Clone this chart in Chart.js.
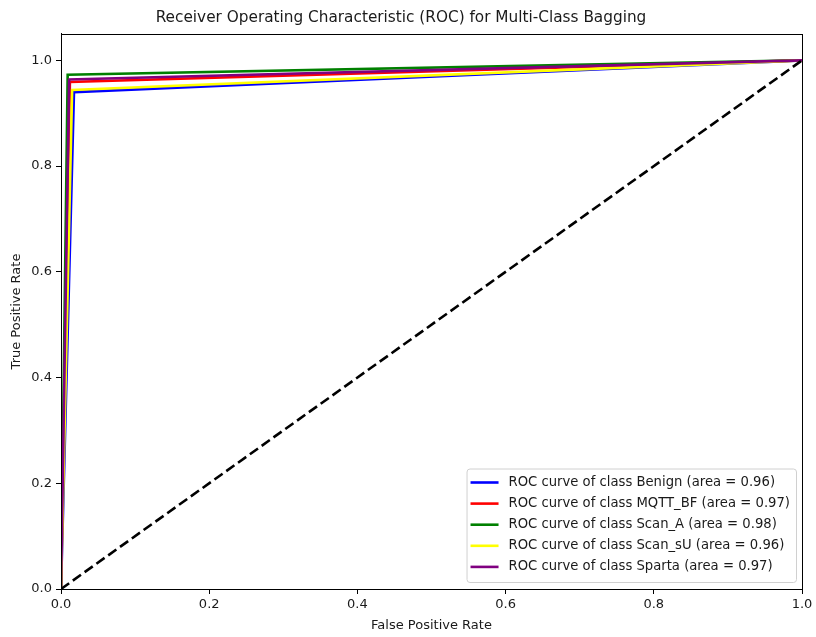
<!DOCTYPE html>
<html>
<head>
<meta charset="utf-8">
<script src="https://cdn.jsdelivr.net/npm/chart.js@4/dist/chart.umd.min.js"></script>
<style>
  html, body { margin: 0; padding: 0; background: #fff; }
  canvas { display: block; }
</style>
</head>
<body>
<canvas id="roc" width="816" height="637"></canvas>
<script>
// ROC points per class (FPR, TPR)
const classNames = ['Benign', 'MQTT_BF', 'Scan_A', 'Scan_sU', 'Sparta'];
const classAuc = [0.96, 0.97, 0.98, 0.96, 0.97];
const classColors = ['#0000ff', '#ff0000', '#008000', '#ffff00', '#800080'];

const benignFpr = [0, 0.0175, 1];
const benignTpr = [0, 0.940, 1];
const mqttFpr = [0, 0.012, 1];
const mqttTpr = [0, 0.959, 1];
const scanAFpr = [0, 0.009, 1];
const scanATpr = [0, 0.973, 1];
const scanSuFpr = [0, 0.015, 1];
const scanSuTpr = [0, 0.944, 1];
const spartaFpr = [0, 0.011, 1];
const spartaTpr = [0, 0.964, 1];

const chanceFpr = [0, 1];
const chanceTpr = [0, 1];

const xTicks = [0, 0.2, 0.4, 0.6, 0.8, 1.0];
const yTicks = [0, 0.2, 0.4, 0.6, 0.8, 1.0];

const FONT = "'DejaVu Sans', sans-serif";
const TEXT = '#1a1a1a';

const curves = [
  [benignFpr, benignTpr],
  [mqttFpr, mqttTpr],
  [scanAFpr, scanATpr],
  [scanSuFpr, scanSuTpr],
  [spartaFpr, spartaTpr]
];

function toPoints(xs, ys) {
  return xs.map((x, i) => ({ x: x, y: ys[i] }));
}

const datasets = curves.map((c, i) => ({
  label: 'ROC curve of class ' + classNames[i] + ' (area = ' + classAuc[i].toFixed(2) + ')',
  data: toPoints(c[0], c[1]),
  borderColor: classColors[i],
  backgroundColor: classColors[i],
  borderWidth: 2.6,
  // matplotlib draws later lines on top
  order: curves.length - i
}));

datasets.push({
  label: 'chance',
  data: toPoints(chanceFpr, chanceTpr),
  borderColor: '#000',
  borderWidth: 2.6,
  borderDash: [10, 4.5],
  order: 0
});

// box around the plot area, like matplotlib spines
const frame = {
  id: 'frame',
  afterDatasetsDraw(chart) {
    const a = chart.chartArea;
    const ctx = chart.ctx;
    ctx.save();
    ctx.strokeStyle = '#000';
    ctx.lineWidth = 1;
    ctx.strokeRect(Math.round(a.left) + 0.5, Math.round(a.top) + 0.5,
      Math.round(a.right - a.left), Math.round(a.bottom - a.top));
    ctx.restore();
  }
};

// legend inside the plot, lower right
const rocLegend = {
  id: 'rocLegend',
  afterDraw(chart) {
    const a = chart.chartArea;
    const ctx = chart.ctx;
    const fontSize = 13.2;
    const rowH = 21.1;
    const lineLen = 28;
    const gap = 10;
    ctx.save();
    ctx.font = fontSize + 'px ' + FONT;
    const labels = datasets.slice(0, classNames.length).map(d => d.label);
    const textW = Math.max(...labels.map(l => ctx.measureText(l).width));
    const w = 4 + lineLen + gap + textW + 6;
    const h = rowH * labels.length + 8;
    const x = a.right - 6 - w;
    const y = a.bottom - 7 - h;
    ctx.beginPath();
    ctx.roundRect(x + 0.5, y + 0.5, w, h, 3);
    ctx.fillStyle = 'rgba(255,255,255,0.8)';
    ctx.fill();
    ctx.strokeStyle = '#d0d0d0';
    ctx.lineWidth = 1;
    ctx.stroke();
    labels.forEach((l, i) => {
      const cy = y + 14 + i * rowH;
      ctx.beginPath();
      ctx.moveTo(x + 4, cy);
      ctx.lineTo(x + 4 + lineLen, cy);
      ctx.strokeStyle = classColors[i];
      ctx.lineWidth = 2.6;
      ctx.stroke();
      ctx.fillStyle = TEXT;
      ctx.textBaseline = 'middle';
      ctx.textAlign = 'left';
      ctx.fillText(l, x + 4 + lineLen + gap, cy);
    });
    ctx.restore();
  }
};

new Chart(document.getElementById('roc'), {
  type: 'line',
  data: { datasets: datasets },
  options: {
    responsive: false,
    animation: false,
    devicePixelRatio: 1,
    layout: { padding: { left: 0, right: 14, top: 0, bottom: 0 } },
    elements: {
      point: { radius: 0, hoverRadius: 0 },
      line: { tension: 0, fill: false }
    },
    plugins: {
      legend: { display: false },
      tooltip: { enabled: false },
      title: {
        display: true,
        text: 'Receiver Operating Characteristic (ROC) for Multi-Class Bagging',
        color: TEXT,
        font: { family: FONT, size: 15.3, weight: 'normal' },
        padding: { top: 9, bottom: 6.6 }
      }
    },
    scales: {
      x: {
        type: 'linear',
        min: 0,
        max: 1,
        afterBuildTicks: s => { s.ticks = xTicks.map(v => ({ value: v })); },
        afterFit: s => { s.height = 48; },
        grid: { drawOnChartArea: false, drawTicks: true, tickLength: 5, color: '#000' },
        border: { display: true, color: '#000' },
        ticks: {
          color: TEXT,
          padding: 3,
          maxRotation: 0,
          font: { family: FONT, size: 13 },
          callback: v => v.toFixed(1)
        },
        title: {
          display: true,
          text: 'False Positive Rate',
          color: TEXT,
          font: { family: FONT, size: 13 },
          padding: { top: 0, bottom: 4 }
        }
      },
      y: {
        type: 'linear',
        min: 0,
        max: 1.05,
        afterBuildTicks: s => { s.ticks = yTicks.map(v => ({ value: v })); },
        afterFit: s => { s.width = 61; },
        grid: { drawOnChartArea: false, drawTicks: true, tickLength: 5, color: '#000' },
        border: { display: true, color: '#000' },
        ticks: {
          color: TEXT,
          padding: 4,
          font: { family: FONT, size: 13 },
          callback: v => v.toFixed(1)
        },
        title: {
          display: true,
          text: 'True Positive Rate',
          color: TEXT,
          font: { family: FONT, size: 13 },
          padding: { top: 9, bottom: 0 }
        }
      }
    }
  },
  plugins: [frame, rocLegend]
});
</script>
</body>
</html>
